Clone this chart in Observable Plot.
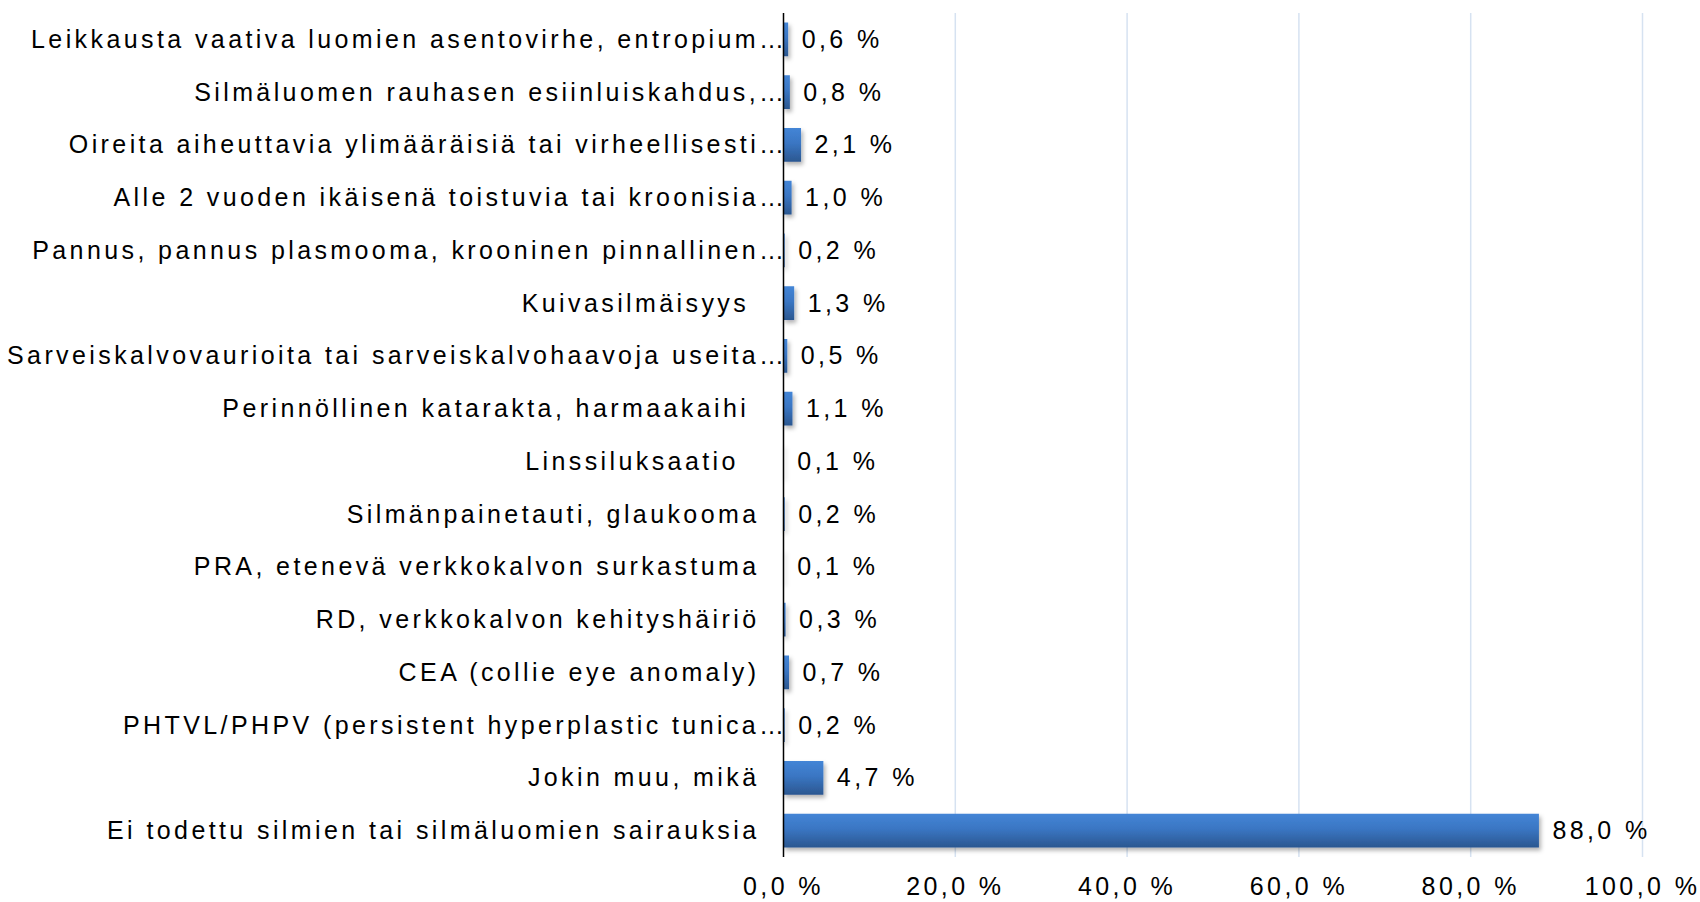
<!DOCTYPE html>
<html>
<head>
<meta charset="utf-8">
<script src="https://cdn.jsdelivr.net/npm/d3@7"></script>
<script src="https://cdn.jsdelivr.net/npm/@observablehq/plot@0.6"></script>
<style>
  html, body { margin: 0; padding: 0; background: #fff; }
  svg text { white-space: pre; }
</style>
</head>
<body>
<div id="chart"></div>
<script>
const categories = [
  "Leikkausta vaativa luomien asentovirhe, entropium…",
  "Silmäluomen rauhasen esiinluiskahdus,…",
  "Oireita aiheuttavia ylimääräisiä tai virheellisesti…",
  "Alle 2 vuoden ikäisenä toistuvia tai kroonisia…",
  "Pannus, pannus plasmooma, krooninen pinnallinen…",
  "Kuivasilmäisyys ",
  "Sarveiskalvovaurioita tai sarveiskalvohaavoja useita…",
  "Perinnöllinen katarakta, harmaakaihi ",
  "Linssiluksaatio  ",
  "Silmänpainetauti, glaukooma",
  "PRA, etenevä verkkokalvon surkastuma",
  "RD, verkkokalvon kehityshäiriö",
  "CEA (collie eye anomaly)",
  "PHTVL/PHPV (persistent hyperplastic tunica…",
  "Jokin muu, mikä",
  "Ei todettu silmien tai silmäluomien sairauksia"
];
const values = [0.6, 0.8, 2.1, 1.0, 0.2, 1.3, 0.5, 1.1, 0.1, 0.2, 0.1, 0.3, 0.7, 0.2, 4.7, 88.0];
const xTicks = [0, 20, 40, 60, 80, 100];

const data = categories.map((name, i) => ({name, value: values[i]}));
const fmt = v => v.toFixed(1).replace(".", ",") + " %";
const truncated = d => d.name.endsWith("…");

const chart = Plot.plot({
  width: 1700,
  height: 902,
  marginLeft: 783,
  marginRight: 58,
  marginTop: 13,
  marginBottom: 45,
  style: {fontFamily: "'Liberation Sans', Arial, sans-serif", fontSize: "25px", letterSpacing: "3.4px", color: "#000", background: "#fff"},
  x: {domain: [0, 100], axis: null},
  y: {domain: categories, paddingInner: 0.36, paddingOuter: 0.18, round: false, axis: null},
  marks: [
    Plot.ruleX(xTicks.filter(t => t > 0), {stroke: "#d6e2f1", strokeWidth: 1.5}),
    Plot.barX(data, {y: "name", x: "value", fill: "url(#barGrad)"}),
    Plot.ruleX([0], {stroke: "#000", strokeWidth: 1.5}),
    Plot.text(data, {y: "name", x: "value", text: d => fmt(d.value), textAnchor: "start", dx: 13, fill: "#000"}),
    Plot.text(data.filter(truncated), {y: "name", x: () => 0, text: "name", textAnchor: "end", dx: 4, fill: "#000"}),
    Plot.text(data.filter(d => !truncated(d)), {y: "name", x: () => 0, text: "name", textAnchor: "end", dx: -24, fill: "#000"}),
    Plot.axisX(xTicks, {tickSize: 0, tickPadding: 20, tickFormat: fmt, fontSize: 25, fill: "#000", label: null})
  ]
});

const ns = "http://www.w3.org/2000/svg";
const defs = document.createElementNS(ns, "defs");
defs.innerHTML = `
  <linearGradient id="barGrad" x1="0" y1="0" x2="0" y2="1">
    <stop offset="0" stop-color="#4485d6"/>
    <stop offset="0.45" stop-color="#3a76c3"/>
    <stop offset="1" stop-color="#2b5790"/>
  </linearGradient>
  <filter id="barShadow" x="-20%" y="-30%" width="140%" height="180%">
    <feDropShadow dx="2" dy="3" stdDeviation="2" flood-color="#000" flood-opacity="0.3"/>
  </filter>`;
chart.insertBefore(defs, chart.firstChild);
const barGroup = chart.querySelector('g[aria-label="bar"]');
if (barGroup) barGroup.setAttribute("filter", "url(#barShadow)");
document.getElementById("chart").appendChild(chart);
</script>
</body>
</html>
